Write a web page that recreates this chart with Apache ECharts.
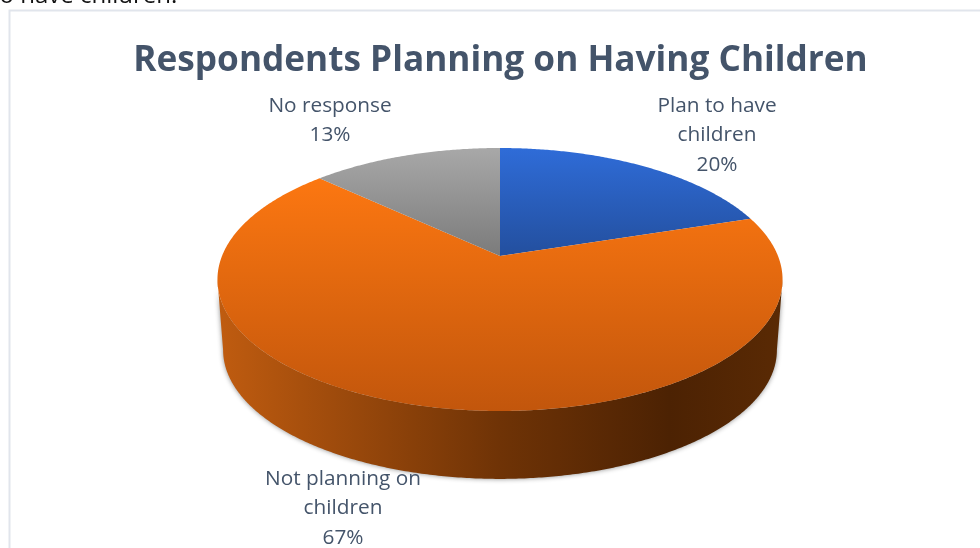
<!DOCTYPE html>
<html>
<head>
<meta charset="utf-8">
<style>html,body{margin:0;padding:0;background:#fff;overflow:hidden}#chart{width:980px;height:548px}</style>
<script src="https://cdn.jsdelivr.net/npm/echarts@6/dist/echarts.min.js"></script>
</head>
<body>
<div id="chart"></div>
<script>
// Share of respondents, clockwise from twelve o'clock
const categories = ['Plan to have children', 'Not planning on children', 'No response'];
const shares = [20, 67, 13];
const labelLines = [['Plan to have', 'children'], ['Not planning on', 'children'], ['No response']];
const labelAnchors = [[717, 106], [343, 479], [330, 106]];
const topColors = [['#2f6cd8', '#234f9e'], ['#fc7711', '#c2560c'], ['#a8a8a8', '#7b7b7b']];
const wallStops = [[0, '#c05c10'], [0.5, '#6f3306'], [0.8, '#4c2203'], [1, '#5a2a04']];

const TEXT = '#44546a';
const FONT = '"Open Sans"';
const total = shares.reduce((a, b) => a + b, 0);

// Projected disc: a unit circle seen in perspective, nearer edge larger
const APEX = [500, 256], WIDE = 278, DEEP = 127.3, PERSP = 0.1787;
const WALL_DROP = 71, WALL_SCALE = 0.98;
// Bearings of the silhouette's widest points; only the rim between them faces the viewer
const RIM_START = Math.acos(-PERSP) * 180 / Math.PI, RIM_END = 360 - RIM_START;

function project(deg, drop, scale) {
  const t = deg * Math.PI / 180;
  const X = Math.sin(t), Y = Math.cos(t), d = 1 + PERSP * Y;
  return [APEX[0] + scale * WIDE * X / d, APEX[1] + drop - scale * DEEP * Y / d];
}
function arc(from, to, drop, scale) {
  const n = Math.max(2, Math.ceil(Math.abs(to - from) * 2)), pts = [];
  for (let i = 0; i <= n; i++) pts.push(project(from + (to - from) * i / n, drop, scale));
  return pts;
}
function range(idx) {
  let s = 0;
  for (let i = 0; i < idx; i++) s += shares[i];
  return [s / total * 360, (s + shares[idx]) / total * 360];
}

function renderWall(params, api) {
  const r = range(params.dataIndex);
  const a = Math.max(r[0], RIM_START), b = Math.min(r[1], RIM_END);
  if (a >= b) return null;
  const pts = arc(a, b, WALL_DROP, WALL_SCALE).concat(arc(b, a, 0, 1));
  return {
    type: 'polygon',
    shape: { points: pts },
    style: {
      fill: new echarts.graphic.LinearGradient(0, 0, 1, 0,
        wallStops.map(s => ({ offset: s[0], color: s[1] }))),
      shadowBlur: 5,
      shadowColor: 'rgba(0,0,0,0.45)'
    }
  };
}
function renderTop(params, api) {
  const i = params.dataIndex, r = range(i), c = topColors[i];
  const pts = [APEX].concat(arc(r[0], r[1], 0, 1));
  return {
    type: 'polygon',
    shape: { points: pts },
    style: {
      fill: new echarts.graphic.LinearGradient(0, 0, 0, 1, [
        { offset: 0, color: c[0] },
        { offset: 1, color: c[1] }
      ])
    }
  };
}
function renderLabel(params, api) {
  const i = params.dataIndex;
  const lines = labelLines[i].concat([Math.round(shares[i] / total * 100) + '%']);
  return {
    type: 'group',
    children: lines.map((line, k) => ({
      type: 'text',
      x: labelAnchors[i][0],
      y: labelAnchors[i][1] + k * 29.5,
      style: { text: line, fill: TEXT, font: '20.8px ' + FONT, align: 'center', verticalAlign: 'middle' }
    }))
  };
}

const rows = categories.map((name, i) => ({ name, value: shares[i] }));
const chart = echarts.init(document.getElementById('chart'), null, { renderer: 'canvas' });
chart.setOption({
  animation: false,
  backgroundColor: '#ffffff',
  title: {
    text: 'Respondents Planning on Having Children',
    left: 495.5, top: 56, textAlign: 'center', textVerticalAlign: 'middle',
    textStyle: { color: TEXT, fontFamily: FONT, fontWeight: 'bold', fontSize: 35.2 }
  },
  graphic: [
    { type: 'text', x: -9, y: -16, style: { text: 'to have children.', fill: '#111', font: '24px ' + FONT } },
    { type: 'polyline', shape: { points: [[9.5, 548], [9.5, 10.5], [980, 10.5]] }, style: { stroke: '#e1e5ec', lineWidth: 2, fill: 'none' } }
  ],
  series: [
    { type: 'custom', coordinateSystem: 'none', z: 1, silent: true, renderItem: renderWall, data: rows },
    { type: 'custom', coordinateSystem: 'none', z: 2, silent: true, renderItem: renderTop, data: rows },
    { type: 'custom', coordinateSystem: 'none', z: 3, silent: true, renderItem: renderLabel, data: rows }
  ]
});
</script>
</body>
</html>
